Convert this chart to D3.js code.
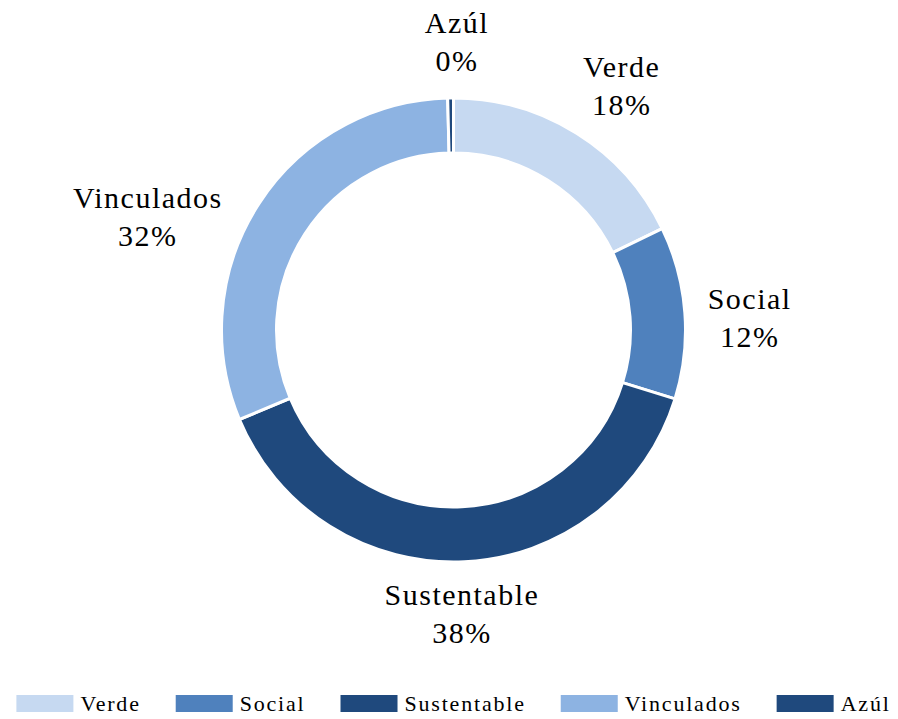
<!DOCTYPE html>
<html>
<head>
<meta charset="utf-8">
<script src="https://cdn.jsdelivr.net/npm/d3@7"></script>
<style>
  html, body { margin: 0; padding: 0; background: #fff; }
  svg { display: block; font-family: "Liberation Serif", "Times New Roman", serif; }
</style>
</head>
<body>
<svg id="chart" width="898" height="719"></svg>
<script>
// slice data, clockwise from 12 o'clock
const categories = ["Verde", "Social", "Sustentable", "Vinculados", "Azúl"];
const values = [17.8, 12.0, 38.9, 30.9, 0.4];
const pctLabels = ["18%", "12%", "38%", "32%", "0%"];
const colors = ["#c6d9f1", "#4f81bd", "#1f497d", "#8db3e2", "#1f497d"];

const width = 898,
  height = 719,
  cx = 453.5,
  cy = 330,
  outerR = 232,
  innerR = 177;

// small tweaks so labels land where the original placed them
const labelNudge = {
  Verde: [15, -7],
  Social: [5, 9],
  Sustentable: [-7, 4],
  Vinculados: [-33, 39],
  "Azúl": [7, -8],
};

const svg = d3.select("#chart");

const pie = d3.pie().sort(null).value((d) => d.value);
const arc = d3.arc().innerRadius(innerR).outerRadius(outerR);

const data = categories.map((c, i) => ({
  name: c,
  value: values[i],
  label: pctLabels[i],
  color: colors[i],
}));

const arcs = pie(data);

const g = svg.append("g").attr("transform", `translate(${cx},${cy})`);

g.selectAll("path")
  .data(arcs)
  .enter()
  .append("path")
  .attr("d", arc)
  .attr("fill", (d) => d.data.color)
  .attr("stroke", "#fff")
  .attr("stroke-width", 3)
  .attr("stroke-linejoin", "miter");

// outside-end labels
const labelR = 250;
const labels = g
  .selectAll("text.lbl")
  .data(arcs)
  .enter()
  .append("text")
  .attr("class", "lbl")
  .attr("text-anchor", "middle")
  .attr("font-size", 30)
  .attr("letter-spacing", 1.5)
  .attr("fill", "#000");

labels.each(function (d) {
  const t = d3.select(this);
  const a = (d.startAngle + d.endAngle) / 2;
  const s = Math.sin(a),
    c = -Math.cos(a);
  t.append("tspan").attr("x", 0).attr("dy", 0).text(d.data.name);
  t.append("tspan").attr("x", 0).attr("dy", 38).text(d.data.label);
  const w = this.getBBox().width;
  const nudge = labelNudge[d.data.name] || [0, 0];
  const px = labelR * s + (s * w) / 2 + nudge[0];
  const py = labelR * c + c * 30 + nudge[1];
  t.attr("transform", `translate(${px},${py - 9})`);
});

// legend along the bottom
const legend = svg.append("g").attr("id", "legend");
const swW = 57,
  swH = 17,
  swGap = 7,
  itemGap = 35,
  legendY = 695;

const items = legend
  .selectAll("g")
  .data(data)
  .enter()
  .append("g");

items
  .append("rect")
  .attr("width", swW)
  .attr("height", swH)
  .attr("fill", (d) => d.color);

items
  .append("text")
  .attr("x", swW + swGap)
  .attr("y", swH - 1)
  .attr("font-size", 22)
  .attr("letter-spacing", 1.8)
  .attr("fill", "#000")
  .text((d) => d.name);

let offsets = [],
  xPos = 0;
items.each(function () {
  const w = d3.select(this).select("text").node().getComputedTextLength();
  offsets.push(xPos);
  xPos += swW + swGap + w + itemGap;
});
const total = xPos - itemGap;
const startX = cx - total / 2;
items.attr("transform", (d, i) => `translate(${startX + offsets[i]},${legendY})`);
</script>
</body>
</html>
